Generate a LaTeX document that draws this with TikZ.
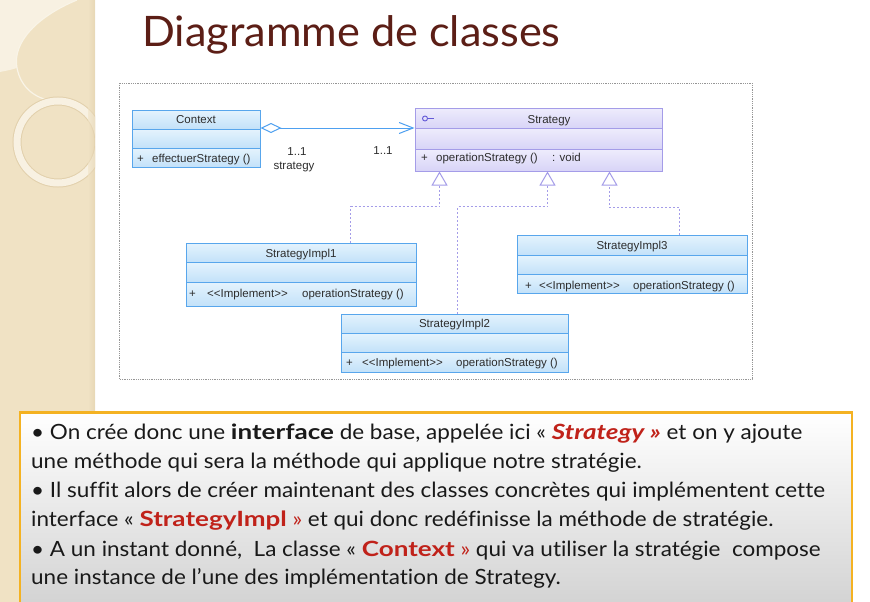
\documentclass[tikz,border=0pt]{standalone}
\usepackage{fontspec}
\setmainfont{Liberation Sans}
\newfontfamily\umlfont{Liberation Sans}
\newfontfamily\slidefont[FakeStretch=1.07, Ligatures=NoCommon]{Lato}
\newfontfamily\slidebold[FakeStretch=1.24, Ligatures=NoCommon]{Lato}
\newfontfamily\titlefont[FakeStretch=1.03, Ligatures=NoCommon]{Lato}
\usetikzlibrary{arrows.meta,fit}

\definecolor{stripbg}{RGB}{240,226,196}
\definecolor{striplt}{RGB}{248,241,226}
\definecolor{stripdk}{RGB}{226,208,172}
\definecolor{titlecol}{RGB}{92,30,22}
\definecolor{umlblueL}{RGB}{228,243,253}
\definecolor{umlblueD}{RGB}{194,225,249}
\definecolor{umlblueE}{RGB}{88,166,236}
\definecolor{umlvioL}{RGB}{238,236,252}
\definecolor{umlvioD}{RGB}{216,212,247}
\definecolor{umlvioE}{RGB}{164,156,232}
\definecolor{iconvio}{RGB}{100,90,215}
\definecolor{linkblue}{RGB}{78,160,240}
\definecolor{keyred}{RGB}{192,34,26}
\definecolor{boxorange}{RGB}{244,178,34}
\definecolor{umltextcol}{RGB}{45,45,45}
\definecolor{framegray}{RGB}{150,150,150}

% one UML class: name, x1, y1, x2, y2, first divider, second divider, colour set
\newcommand{\umlclass}[8]{%
  \shade[top color=#8L, bottom color=#8D] (#2,#3) rectangle (#4,#6);
  \shade[top color=#8L, bottom color=#8D] (#2,#6) rectangle (#4,#7);
  \shade[top color=#8L, bottom color=#8D] (#2,#7) rectangle (#4,#5);
  \node[fit={(#2,#3) (#4,#5)}, inner sep=0pt, draw=#8E, line width=1pt] (#1) {};
  \draw[#8E, line width=1pt] (#2,#6) -- (#4,#6) (#2,#7) -- (#4,#7);
}
% bold words of the explanation
\newcommand{\kw}[1]{{\slidebold\bfseries #1}}

\tikzset{
  umltxt/.style={font=\umlfont\fontsize{11.5}{13}\selectfont, text=umltextcol, inner sep=0pt},
  umltitle/.style={umltxt, anchor=base},
  umlmember/.style={umltxt, anchor=base west},
  aggr/.style={draw=linkblue, line width=1pt,
    {Diamond[open, fill=white, length=21pt, width=10pt]}-{Straight Barb[length=14pt, width=11pt]}},
  realize/.style={draw=umlvioE, line width=1pt, dash pattern=on 2pt off 2pt,
    -{Triangle[open, fill=white, length=14pt, width=16pt]}},
  bodyline/.style={font=\slidefont\fontsize{21}{29}\selectfont, anchor=base west, inner sep=0pt, text=black!90},
}

\begin{document}
\begin{tikzpicture}[x=1pt, y=-1pt]
\useasboundingbox (0,0) rectangle (870,602);
\fill[white] (0,0) rectangle (870,602);

% decorated side band
\begin{scope}
  \clip (0,0) rectangle (95,602);
  \fill[stripbg] (0,0) rectangle (95,602);
  \fill[striplt] (0,0) -- (77,0) .. controls (38,16) and (12,42) .. (17,68)
    .. controls (10,70) .. (0,72) -- cycle;
  \draw[white!60!stripbg, line width=1.2pt] (77,0) .. controls (38,16) and (12,42) .. (17,68)
    .. controls (21,88) and (35,98) .. (52,101);
  \draw[stripdk, line width=9pt] (58,142) circle (41);
  \draw[striplt, line width=7pt] (58,142) circle (41);
  \shade[left color=stripbg, right color=stripdk, opacity=0.6] (88,0) rectangle (95,602);
\end{scope}

% title
\node[font=\titlefont\fontsize{42}{42}\selectfont, anchor=base west, text=titlecol, inner sep=0pt] (title) at (142,47) {Diagramme de classes};

% diagram frame
\draw[framegray, line width=0.8pt, densely dotted] (119,83) rectangle (752,379);

% classes
\umlclass{ctx}{132}{110}{260}{167.5}{129.3}{148.3}{umlblue}
\umlclass{strat}{415}{108}{662}{171}{128.3}{149}{umlvio}
\umlclass{impl1}{186}{243}{416}{306.5}{262.7}{282.3}{umlblue}
\umlclass{impl2}{341}{314}{568}{372.3}{333.3}{352.3}{umlblue}
\umlclass{impl3}{517}{235}{747}{293.3}{255.7}{274.3}{umlblue}

% class texts
\node[umltitle] (ctx-name) at (196,123.8) {Context};
\node[umlmember] (ctx-plus) at (137,162.3) {+};
\node[umlmember] (ctx-op) at (152,162.3) {effectuerStrategy ()};

\draw[iconvio, line width=0.9pt] (425,118.5) circle (2.5);
\draw[iconvio, line width=0.9pt] (427.5,118.5) -- (434,118.5);
\node[umltitle] (strat-name) at (549,123) {Strategy};
\node[umlmember] (strat-plus) at (421,161.8) {+};
\node[umlmember] (strat-op) at (436,161.8) {operationStrategy ()};
\node[umlmember] (strat-ret) at (552,161.8) {: void};

\node[umltitle] (impl1-name) at (301,257.2) {StrategyImpl1};
\node[umlmember] (impl1-plus) at (189,297.3) {+};
\node[umlmember] (impl1-st) at (207,297.3) {<<Implement>>};
\node[umlmember] (impl1-op) at (302,297.3) {operationStrategy ()};

\node[umltitle] (impl2-name) at (454.5,327.5) {StrategyImpl2};
\node[umlmember] (impl2-plus) at (346,366.8) {+};
\node[umlmember] (impl2-st) at (362,366.8) {<<Implement>>};
\node[umlmember] (impl2-op) at (456,366.8) {operationStrategy ()};

\node[umltitle] (impl3-name) at (632,249.8) {StrategyImpl3};
\node[umlmember] (impl3-plus) at (525,289.2) {+};
\node[umlmember] (impl3-st) at (539,289.2) {<<Implement>>};
\node[umlmember] (impl3-op) at (633,289.2) {operationStrategy ()};

% aggregation Context <>-> Strategy
\draw[aggr] ([yshift=-18.5pt]ctx.north east) -- ([yshift=-20.5pt]strat.north west);
\node[umltxt, anchor=center] (mult-a) at (297,152) {1..1};
\node[umltxt, anchor=center] (role-a) at (294,167) {strategy};
\node[umltxt, anchor=center] (mult-b) at (383,150.5) {1..1};

% realizations
\draw[realize] ([xshift=165pt]impl1.north west) -- ++(0,-36) -| ([xshift=25pt]strat.south west);
\draw[realize] ([xshift=117pt]impl2.north west) -- ++(0,-107) -| ([xshift=133pt]strat.south west);
\draw[realize] ([xshift=163pt]impl3.north west) -- ++(0,-27) -| ([xshift=195pt]strat.south west);

% explanation box
\shade[top color=white, bottom color=black!17] (20,412.5) rectangle (852,602);
\draw[boxorange, line width=2.6pt] (20,602) -- (20,412.5) -- (852,412.5) -- (852,602);

\node[bodyline] (line1) at (31,439.3) {• On crée donc une \kw{interface} de base, appelée ici « \textcolor{keyred}{\kw{\itshape Strategy »}} et on y ajoute};
\node[bodyline] (line2) at (31,468.3) {une méthode qui sera la méthode qui applique notre stratégie.};
\node[bodyline] (line3) at (31,497.3) {• Il suffit alors de créer maintenant des classes concrètes qui implémentent cette};
\node[bodyline] (line4) at (31,526.7) {interface « \textcolor{keyred}{\kw{StrategyImpl} »} et qui donc redéfinisse la méthode de stratégie.};
\node[bodyline] (line5) at (31,556) {• A un instant donné,~ La classe « \textcolor{keyred}{\kw{Context} »} qui va utiliser la stratégie~ compose};
\node[bodyline] (line6) at (31,584) {une instance de l’une des implémentation de Strategy.};
\end{tikzpicture}
\end{document}
